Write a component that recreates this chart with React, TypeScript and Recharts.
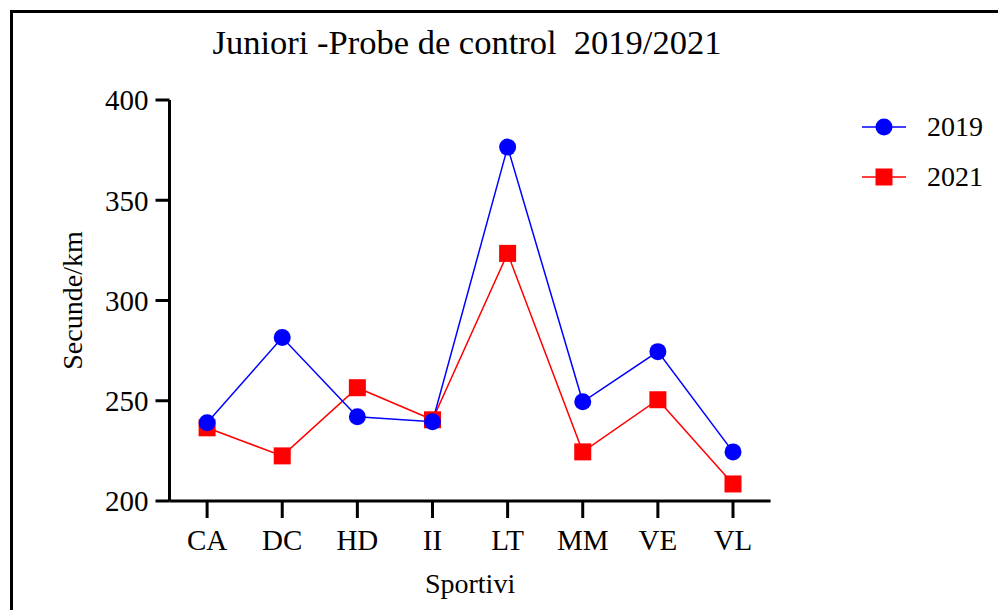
import { Legend, Line, LineChart, XAxis, YAxis } from 'recharts';

const categories = ['CA', 'DC', 'HD', 'II', 'LT', 'MM', 'VE', 'VL'];
const values2019 = [239, 281.5, 242, 239.5, 376.5, 249.5, 274.5, 224.5];
const values2021 = [236.5, 222.5, 256.5, 240.5, 323.5, 224.5, 250.5, 208.5];
const yTicks = [200, 250, 300, 350, 400];

const BLUE = '#0000ff';
const RED = '#ff0000';
const FONT = '"Liberation Serif", "Times New Roman", serif';

const data = categories.map((name, i) => ({ name, y2019: values2019[i], y2021: values2021[i] }));

const SquareDot = (props: any) => {
  const { cx, cy, index } = props;
  if (cx == null || cy == null) return null;
  return <rect key={`sq-${index}`} x={cx - 8.5} y={cy - 8.5} width={17} height={17} fill={RED} />;
};

const legendItems = [
  { label: '2019', color: BLUE, shape: 'circle' },
  { label: '2021', color: RED, shape: 'square' },
];

function ChartLegend() {
  return (
    <div style={{ fontFamily: FONT, fontSize: 28, color: '#000' }}>
      {legendItems.map((item) => (
        <div key={item.label} style={{ display: 'flex', alignItems: 'center', height: 50 }}>
          <svg width={44} height={20}>
            <line x1={0} y1={10} x2={44} y2={10} stroke={item.color} strokeWidth={1.5} />
            {item.shape === 'circle' ? (
              <circle cx={22} cy={10} r={8.5} fill={item.color} />
            ) : (
              <rect x={13.5} y={1.5} width={17} height={17} fill={item.color} />
            )}
          </svg>
          <span style={{ marginLeft: 21, lineHeight: 1 }}>{item.label}</span>
        </div>
      ))}
    </div>
  );
}

export default function App() {
  return (
    <div style={{ position: 'absolute', left: 0, top: 0, width: 998, height: 610, background: '#fff' }}>
      <div
        style={{
          position: 'absolute',
          left: 10,
          top: 10,
          right: 0,
          bottom: 0,
          borderLeft: '3px solid #000',
          borderTop: '3px solid #000',
        }}
      />
      <div
        style={{
          position: 'absolute',
          left: 0,
          width: 934,
          top: 21,
          textAlign: 'center',
          fontFamily: FONT,
          fontSize: 34.5,
          lineHeight: '42px',
          color: '#000',
          whiteSpace: 'pre',
        }}
      >
        {'Juniori -Probe de control  2019/2021'}
      </div>
      <LineChart width={998} height={610} data={data} margin={{ top: 100, right: 227.4, bottom: 0, left: 0 }}>
        <XAxis
          dataKey="name"
          height={109}
          padding={{ left: 37.6, right: 37.6 }}
          axisLine={{ stroke: '#000', strokeWidth: 3 }}
          tickLine={{ stroke: '#000', strokeWidth: 3 }}
          tickSize={17}
          tickMargin={11}
          tick={{ fontSize: 29, fill: '#000', fontFamily: FONT }}
          label={({ viewBox }: any) => (
            <text
              x={viewBox.x + viewBox.width / 2}
              y={viewBox.y + 82}
              textAnchor="middle"
              dominantBaseline="central"
              fontFamily={FONT}
              fontSize={28}
              fill="#000"
            >
              Sportivi
            </text>
          )}
        />
        <YAxis
          width={169.5}
          domain={[200, 400]}
          ticks={yTicks}
          axisLine={{ stroke: '#000', strokeWidth: 3 }}
          tickLine={{ stroke: '#000', strokeWidth: 3 }}
          tickSize={14}
          tickMargin={7}
          tick={{ fontSize: 29, fill: '#000', fontFamily: FONT }}
          label={({ viewBox }: any) => {
            const cx = viewBox.x + 72;
            const cy = viewBox.y + viewBox.height / 2;
            return (
              <text
                x={cx}
                y={cy}
                transform={`rotate(-90, ${cx}, ${cy})`}
                textAnchor="middle"
                dominantBaseline="central"
                fontFamily={FONT}
                fontSize={28}
                fill="#000"
              >
                Secunde/km
              </text>
            );
          }}
        />
        <Legend
          layout="vertical"
          align="center"
          verticalAlign="middle"
          content={() => <ChartLegend />}
          wrapperStyle={{ position: 'absolute', left: 862, top: 102, width: 136, bottom: 'auto', right: 'auto' }}
        />
        <Line
          dataKey="y2021"
          name="2021"
          stroke={RED}
          strokeWidth={1.5}
          dot={<SquareDot />}
          activeDot={false}
          isAnimationActive={false}
        />
        <Line
          dataKey="y2019"
          name="2019"
          stroke={BLUE}
          strokeWidth={1.5}
          dot={{ r: 8.5, fill: BLUE, stroke: BLUE, strokeWidth: 0 }}
          activeDot={false}
          isAnimationActive={false}
        />
      </LineChart>
    </div>
  );
}
